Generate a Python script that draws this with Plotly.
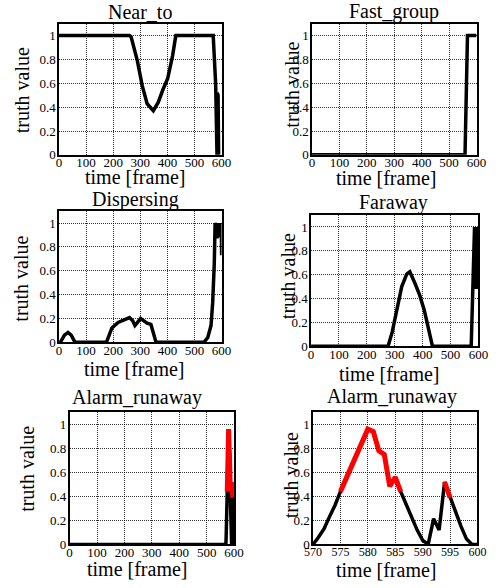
import plotly.graph_objects as go

# ---------------- data ----------------
near_frames = [0, 260, 266, 289, 307, 325, 348, 366, 384, 401, 419, 431, 569, 578, 583, 584, 586, 587, 589, 590]
near_values = [1, 1, 0.99, 0.79, 0.58, 0.43, 0.37, 0.44, 0.55, 0.64, 0.83, 1.0, 1, 0.6, 0, 0.52, 0, 0.5, 0, 0]

fast_frames = [0, 558, 567, 600]
fast_values = [0, 0, 1, 1]

disp_frames = [0, 5, 20, 33, 45, 59, 175, 195, 218, 248, 260, 272, 280, 289, 301, 313, 325, 339, 348, 358,
               535, 549, 561, 567, 573, 576, 579, 581, 583, 585, 587, 589, 591, 593, 595, 597, 599, 600]
disp_values = [0, 0, 0.06, 0.083, 0.06, 0, 0, 0.12, 0.166, 0.2, 0.207, 0.18, 0.14, 0.165, 0.2, 0.18, 0.16, 0.15, 0.08, 0,
               0, 0.04, 0.14, 0.33, 0.66, 1.0, 0.95, 1.0, 0.87, 1.0, 0.9, 1.0, 0.88, 1.0, 1.0, 0.9, 1.0, 0.73]

far_frames = [0, 276, 291, 308, 325, 343, 354, 372, 389, 406, 423, 435, 574, 586, 588, 590, 592, 594, 596, 598, 600]
far_values = [0, 0, 0.12, 0.31, 0.5, 0.605, 0.625, 0.53, 0.43, 0.3, 0.12, 0, 0, 1, 0.5, 1, 0.48, 1, 0.55, 1, 1]

alarm_frames = [0, 570, 571, 572, 573, 574, 575, 576, 577, 578, 579, 580, 581, 582, 583, 584, 585, 586,
                587, 588, 589, 590, 591, 592, 593, 594, 595, 596, 597, 598, 599, 600]
alarm_values = [0, 0, 0.06, 0.13, 0.23, 0.325, 0.44, 0.54, 0.64, 0.75, 0.85, 0.96, 0.94, 0.78, 0.75, 0.485, 0.56, 0.44,
                0.33, 0.22, 0.12, 0.035, 0, 0.215, 0.12, 0.52, 0.39, 0.27, 0.15, 0.045, 0, 0]
# alarm (red) segments: frame ranges
alarm_red_ranges = [(575, 586), (594, 595)]

titles = ["Near_to", "Fast_group", "Dispersing", "Faraway", "Alarm_runaway", "Alarm_runaway"]
x_ticks_full = [0, 100, 200, 300, 400, 500, 600]
x_ticks_zoom = [570, 575, 580, 585, 590, 595, 600]
y_ticks = [0, 0.2, 0.4, 0.6, 0.8, 1]

# ---------------- layout geometry (pixels) ----------------
W, H = 500, 588
boxes = [  # x0, x1, y0(top), y1(bottom)
    (52, 221, 24, 157),
    (315, 486, 24, 157),
    (52, 221, 214, 347),
    (314, 488, 218, 351),
    (63, 234, 418, 552),
    (316, 487, 418, 552),
]
title_pos = [(136, 12), (400, 12), (132, 202), (400, 205), (133, 403), (398, 402)]
ytitle_pos = [(13, 92), (294, 86), (13, 283), (290, 280), (18, 475), (294, 482)]
xtitle_pos = [(131, 179), (392, 180), (130, 374), (396, 379), (134, 577), (392, 578)]

FONT = "Liberation Serif, Times New Roman, serif"

fig = go.Figure()

series = [
    (near_frames, near_values),
    (fast_frames, fast_values),
    (disp_frames, disp_values),
    (far_frames, far_values),
    (alarm_frames, alarm_values),
    (alarm_frames, alarm_values),
]

layout = dict(
    width=W, height=H, autosize=False,
    margin=dict(l=0, r=0, t=0, b=0),
    paper_bgcolor="white", plot_bgcolor="white",
    showlegend=False,
    font=dict(family=FONT, color="black"),
)

annotations = []
for i, ((xs, ys), (x0, x1, yt, yb)) in enumerate(zip(series, boxes)):
    n = i + 1
    xa = "x" if n == 1 else f"x{n}"
    ya = "y" if n == 1 else f"y{n}"
    fig.add_trace(go.Scatter(x=xs, y=ys, mode="lines", xaxis=xa, yaxis=ya,
                             line=dict(color="black", width=3.5), hoverinfo="skip"))
    if n >= 5:
        for (a, b) in alarm_red_ranges:
            sx = [f for f in xs if a <= f <= b]
            sy = [v for f, v in zip(xs, ys) if a <= f <= b]
            fig.add_trace(go.Scatter(x=sx, y=sy, mode="lines", xaxis=xa, yaxis=ya,
                                     line=dict(color="red", width=5), hoverinfo="skip"))
    zoomed = (n == 6)
    xkey = "xaxis" if n == 1 else f"xaxis{n}"
    ykey = "yaxis" if n == 1 else f"yaxis{n}"
    layout[xkey] = dict(
        domain=[x0 / W, x1 / W], anchor=ya,
        range=[570, 600] if zoomed else [0, 600],
        tickvals=x_ticks_zoom if zoomed else x_ticks_full,
        showgrid=True, gridcolor="rgba(0,0,0,0.8)", griddash="1px,1px", gridwidth=1,
        showline=True, linecolor="black", linewidth=1.5, mirror=True,
        zeroline=False, ticks="", ticklen=0, ticklabelstandoff=-5,
        tickfont=dict(family=FONT, size=12 if zoomed else 13, color="black"),
        fixedrange=True,
    )
    layout[ykey] = dict(
        domain=[1 - yb / H, 1 - yt / H], anchor=xa,
        range=[0, 1.1], tickvals=y_ticks,
        showgrid=True, gridcolor="rgba(0,0,0,0.8)", griddash="1px,1px", gridwidth=1,
        showline=True, linecolor="black", linewidth=1.5, mirror=True,
        zeroline=False, ticks="", ticklen=0, ticklabelstandoff=-1,
        tickfont=dict(family=FONT, size=13, color="black"),
        fixedrange=True,
    )
    tx, ty = title_pos[i]
    annotations.append(dict(text=titles[i], x=tx / W, y=1 - ty / H, xref="paper", yref="paper",
                            showarrow=False, xanchor="center", yanchor="middle",
                            font=dict(family=FONT, size=20, color="black")))
    yx, yy = ytitle_pos[i]
    annotations.append(dict(text="truth value", x=yx / W, y=1 - yy / H, xref="paper", yref="paper",
                            showarrow=False, xanchor="center", yanchor="middle", textangle=-90,
                            font=dict(family=FONT, size=20, color="black")))
    xx, xy = xtitle_pos[i]
    annotations.append(dict(text="time [frame]", x=xx / W, y=1 - xy / H, xref="paper", yref="paper",
                            showarrow=False, xanchor="center", yanchor="middle",
                            font=dict(family=FONT, size=20, color="black")))

layout["annotations"] = annotations
fig.update_layout(**layout)
fig.write_html("out.html", config={"displayModeBar": False},
               post_script="document.body.style.margin='0';document.body.style.overflow='hidden';")
